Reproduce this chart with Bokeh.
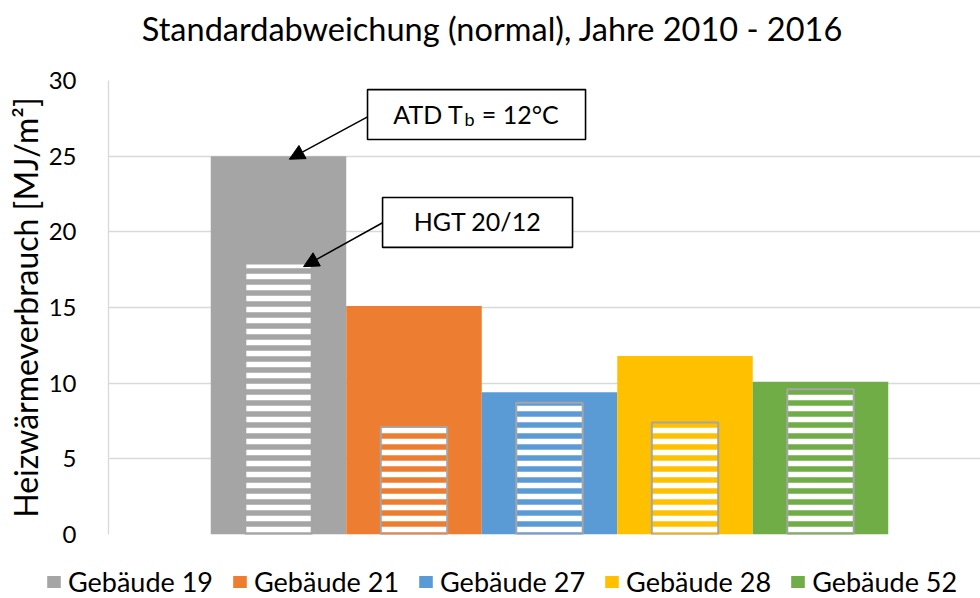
from bokeh.plotting import figure
from bokeh.models import (Range1d, Legend, LegendItem, Arrow, NormalHead, Label,
                          ColumnDataSource)
from bokeh.layouts import column
from bokeh.embed import file_html
from bokeh.resources import INLINE
import numpy as np

# ---------------- data ----------------
categories = ["Gebäude 19", "Gebäude 21", "Gebäude 27", "Gebäude 28", "Gebäude 52"]
atd_values = [25.0, 15.1, 9.4, 11.8, 10.1]     # ATD Tb = 12°C (full bars)
hgt_values = [17.9, 7.1, 8.7, 7.4, 9.6]        # HGT 20/12 (hatched bars)
colors = ["#A5A5A5", "#ED7D31", "#5B9BD5", "#FFC000", "#70AD47"]
y_ticks = [0, 5, 10, 15, 20, 25, 30]

title_text = "Standardabweichung (normal), Jahre 2010 - 2016"
y_label = "Heizwärmeverbrauch [MJ/m²]"

FONT = "Lato"

x = np.arange(1, len(categories) + 1)
src = ColumnDataSource(dict(x=x, atd=atd_values, hgt=hgt_values, color=colors, cat=categories))

HAS_FRAME_ALIGN = "frame_align" in figure.properties()

# ---------------- title strip ----------------
pt = figure(width=980, height=50, output_backend="svg", toolbar_location=None,
            x_range=Range1d(108, 980), y_range=Range1d(0, 50),
            min_border_left=108, min_border_right=0, min_border_top=0, min_border_bottom=0)
pt.outline_line_color = None
pt.axis.visible = False
pt.grid.visible = False
pt.add_layout(Label(x=492, y=22, text=title_text, text_align="center", text_baseline="middle",
                    text_font=FONT, text_font_size="32.5px", text_color="black"))

# ---------------- main chart ----------------
p = figure(width=980, height=500, output_backend="svg", toolbar_location=None,
           x_range=Range1d(-0.2546, 6.1808), y_range=Range1d(0, 30),
           min_border_left=108, min_border_right=0, min_border_top=30, min_border_bottom=16)
p.outline_line_color = None
p.xaxis.visible = False
p.xgrid.visible = False
p.ygrid.grid_line_color = "#D9D9D9"
p.ygrid.grid_line_width = 1.3
p.ygrid.ticker = y_ticks

ax = p.yaxis[0]
ax.ticker = y_ticks
ax.major_tick_line_color = None
ax.minor_tick_line_color = None
ax.axis_line_color = "#D9D9D9"
ax.axis_line_width = 1.3
ax.major_label_text_font = FONT
ax.major_label_text_font_size = "24px"
ax.major_label_text_color = "#000000"
ax.major_label_standoff = 26
ax.axis_label = y_label
ax.axis_label_text_font = FONT
ax.axis_label_text_font_size = "32px"
ax.axis_label_text_font_style = "normal"
ax.axis_label_text_color = "#000000"
ax.axis_label_standoff = 1

p.vbar(x="x", top="atd", width=1.0, fill_color="color", line_color=None, source=src)
p.vbar(x="x", top="hgt", width=0.49, fill_color="color", line_color="#A5A5A5", line_width=2,
       hatch_pattern="horizontal_line", hatch_color="white", hatch_weight=5.5, hatch_scale=11,
       source=src)

# annotations: boxes
p.quad(left=[1.657, 1.768], right=[3.266, 3.170], bottom=[26.1, 18.97], top=[29.4, 22.27],
       fill_color="white", line_color="black", line_width=1.6)

p.add_layout(Arrow(end=NormalHead(size=15, fill_color="black", line_color="black"),
                   x_start=1.657, y_start=27.6, x_end=1.08, y_end=24.8,
                   line_color="black", line_width=1.5))
p.add_layout(Arrow(end=NormalHead(size=15, fill_color="black", line_color="black"),
                   x_start=1.768, y_start=20.6, x_end=1.185, y_end=17.7,
                   line_color="black", line_width=1.5))

p.add_layout(Label(x=2.365, y=27.8, text="ATD T", text_align="right", text_baseline="alphabetic",
                   text_font=FONT, text_font_size="25px", text_color="black"))
p.add_layout(Label(x=2.372, y=27.47, text="b", text_align="left", text_baseline="alphabetic",
                   text_font=FONT, text_font_size="18px", text_color="black"))
p.add_layout(Label(x=2.50, y=27.8, text="= 12°C", text_align="left", text_baseline="alphabetic",
                   text_font=FONT, text_font_size="25px", text_color="black"))
p.add_layout(Label(x=2.469, y=20.73, text="HGT 20/12", text_align="center", text_baseline="alphabetic",
                   text_font=FONT, text_font_size="25px", text_color="black"))

# ---------------- legend strip ----------------
pl = figure(width=980, height=48, output_backend="svg", toolbar_location=None,
            x_range=Range1d(0, 980), y_range=Range1d(100, 148),
            min_border_left=0, min_border_right=0, min_border_top=0, min_border_bottom=0)
pl.outline_line_color = None
pl.axis.visible = False
pl.grid.visible = False
if HAS_FRAME_ALIGN:
    pl.frame_align = False
    leg_x = 45
else:
    leg_x = 45 - 108
# legend swatches take their colours from the same source (bars lie outside this strip's range)
swatch = pl.vbar(x="x", top="atd", width=1.0, fill_color="color", line_color=None, source=src)

legend = Legend(items=[LegendItem(label=c, renderers=[swatch], index=i) for i, c in enumerate(categories)],
                orientation="horizontal", location=(leg_x, 0),
                glyph_width=17, glyph_height=15, label_standoff=6, spacing=18,
                padding=0, margin=0, border_line_color=None, background_fill_alpha=0,
                label_text_font=FONT, label_text_font_size="27px", label_text_color="black")
pl.add_layout(legend)

layout = column(pt, p, pl, spacing=0)
open("out.html", "w").write(file_html(layout, INLINE))
